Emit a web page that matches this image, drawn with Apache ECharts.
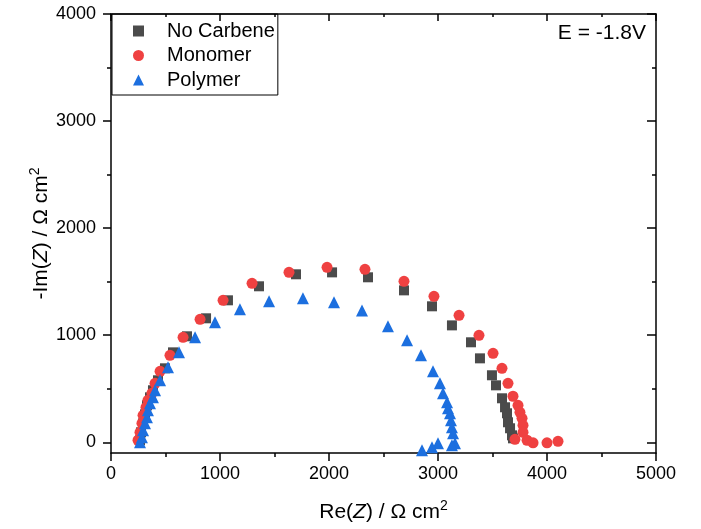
<!DOCTYPE html>
<html>
<head>
<meta charset="utf-8">
<script src="https://cdn.jsdelivr.net/npm/echarts@6/dist/echarts.min.js"></script>
<style>
  html, body { margin: 0; padding: 0; background: #fff; }
  #chart { width: 701px; height: 529px; }
</style>
</head>
<body>
<div id="chart"></div>
<script>
// Re(Z) / Im(Z) readings, Ω cm2
const noCarbeneRe = [266, 275, 294, 312, 330, 358, 385, 431, 495, 569, 697, 872, 1073, 1358, 1697, 2028, 2358, 2688, 2945, 3128, 3303, 3385, 3495, 3532, 3587, 3615, 3633, 3642, 3661, 3679, 3688]
const noCarbeneIm = [19, 93, 177, 261, 345, 420, 486, 579, 691, 840, 990, 1158, 1326, 1457, 1569, 1587, 1541, 1419, 1270, 1092, 934, 784, 626, 532, 411, 327, 271, 187, 131, 65, 37]

const monomerRe = [248, 266, 284, 294, 321, 339, 376, 404, 450, 541, 661, 817, 1028, 1294, 1633, 1982, 2330, 2688, 2963, 3193, 3376, 3505, 3587, 3642, 3688, 3734, 3752, 3771, 3780, 3780, 3706, 3817, 3872, 4000, 4101]
const monomerIm = [19, 93, 177, 252, 327, 392, 458, 551, 663, 812, 980, 1148, 1326, 1485, 1587, 1634, 1615, 1503, 1363, 1186, 999, 831, 691, 551, 430, 345, 280, 224, 159, 93, 28, 19, -5, -5, 9]

const polymerRe = [266, 284, 294, 312, 330, 339, 358, 385, 404, 450, 523, 624, 771, 954, 1183, 1450, 1761, 2046, 2303, 2541, 2716, 2844, 2954, 3018, 3046, 3083, 3092, 3110, 3119, 3128, 3138, 3156, 3128, 3000, 2945, 2853]
const polymerIm = [0, 47, 112, 177, 233, 299, 364, 420, 486, 579, 700, 840, 980, 1120, 1242, 1317, 1345, 1307, 1232, 1083, 952, 812, 663, 551, 458, 373, 317, 271, 205, 140, 84, -9, -28, -9, -47, -75]

const yMajor = [0, 1000, 2000, 3000, 4000]
const yMinor = [500, 1500, 2500, 3500]

const FONT = '"Liberation Sans", Arial, sans-serif'

const zip = (xs, ys) => xs.map((x, i) => [x, ys[i]])
const plain = v => String(v)

var chart = echarts.init(document.getElementById('chart'))

const lineStyle = { color: '#000', width: 1.5 }
const nameRich = {
  i: { fontSize: 21, fontStyle: 'italic', fontFamily: FONT, color: '#000' },
  sup: { fontSize: 14, fontFamily: FONT, color: '#000', padding: [0, 0, 12, 0] }
}

const option = {
  animation: false,
  textStyle: { fontFamily: FONT },
  grid: { left: 111, top: 14, width: 545, height: 439 },
  legend: {
    orient: 'vertical',
    left: 112,
    top: 14,
    padding: [7, 3, 5, 21],
    itemGap: 4.5,
    itemWidth: 11,
    itemHeight: 11,
    borderColor: '#000',
    borderWidth: 1,
    textStyle: { fontFamily: FONT, fontSize: 20, color: '#000', lineHeight: 20, padding: [0, 0, 0, 18] },
    data: [
      { name: 'No Carbene', icon: 'rect' },
      { name: 'Monomer', icon: 'circle' },
      { name: 'Polymer', icon: 'triangle' }
    ]
  },
  graphic: [{
    type: 'text',
    right: 55,
    top: 23,
    style: { text: 'E = -1.8V', font: '21px ' + FONT, fill: '#000' }
  }],
  xAxis: [
    {
      type: 'value', position: 'bottom', min: 0, max: 5000, interval: 1000,
      axisLine: { onZero: false, lineStyle },
      axisTick: { length: 8, lineStyle },
      minorTick: { show: true, splitNumber: 2, length: 4, lineStyle },
      splitLine: { show: false },
      axisLabel: { fontSize: 18, color: '#000', margin: 12, fontFamily: FONT, formatter: plain },
      name: 'Re({i|Z}) / Ω cm{sup|2}',
      nameLocation: 'middle',
      nameGap: 46,
      nameTextStyle: { fontSize: 21, color: '#000', fontFamily: FONT, rich: nameRich }
    },
    {
      type: 'value', position: 'top', min: 0, max: 5000, interval: 1000,
      axisLine: { onZero: false, lineStyle },
      axisTick: { inside: true, length: 7, lineStyle },
      minorTick: { show: true, splitNumber: 2, length: 3, lineStyle },
      splitLine: { show: false },
      axisLabel: { show: false }
    }
  ],
  yAxis: [
    {
      type: 'value', position: 'left', min: -100, max: 4000,
      axisLine: { onZero: false, lineStyle },
      axisTick: { length: 8, lineStyle, customValues: yMajor },
      splitLine: { show: false },
      axisLabel: { fontSize: 18, color: '#000', margin: 15, fontFamily: FONT, customValues: yMajor, formatter: plain },
      name: '-Im({i|Z}) / Ω cm{sup|2}',
      nameLocation: 'middle',
      nameGap: 57,
      nameMoveOverlap: false,
      nameTextStyle: { fontSize: 21, color: '#000', fontFamily: FONT, rich: nameRich }
    },
    {
      type: 'value', position: 'left', min: -100, max: 4000,
      axisLine: { show: false, onZero: false },
      axisTick: { length: 4, lineStyle, customValues: yMinor },
      splitLine: { show: false },
      axisLabel: { show: false }
    },
    {
      type: 'value', position: 'right', min: -100, max: 4000,
      axisLine: { onZero: false, lineStyle },
      axisTick: { inside: true, length: 9, lineStyle, customValues: yMajor },
      splitLine: { show: false },
      axisLabel: { show: false }
    },
    {
      type: 'value', position: 'right', min: -100, max: 4000,
      axisLine: { show: false, onZero: false },
      axisTick: { inside: true, length: 4, lineStyle, customValues: yMinor },
      splitLine: { show: false },
      axisLabel: { show: false }
    }
  ],
  series: [
    {
      name: 'No Carbene', type: 'scatter', symbol: 'rect', symbolSize: 10,
      itemStyle: { color: '#4b4b4b', opacity: 1 },
      data: zip(noCarbeneRe, noCarbeneIm)
    },
    {
      name: 'Monomer', type: 'scatter', symbol: 'circle', symbolSize: 11,
      itemStyle: { color: '#ef4141', opacity: 1 },
      data: zip(monomerRe, monomerIm)
    },
    {
      name: 'Polymer', type: 'scatter', symbol: 'triangle', symbolSize: 12,
      itemStyle: { color: '#1c6fdf', opacity: 1 },
      data: zip(polymerRe, polymerIm)
    }
  ]
}

option && chart.setOption(option)
</script>
</body>
</html>
